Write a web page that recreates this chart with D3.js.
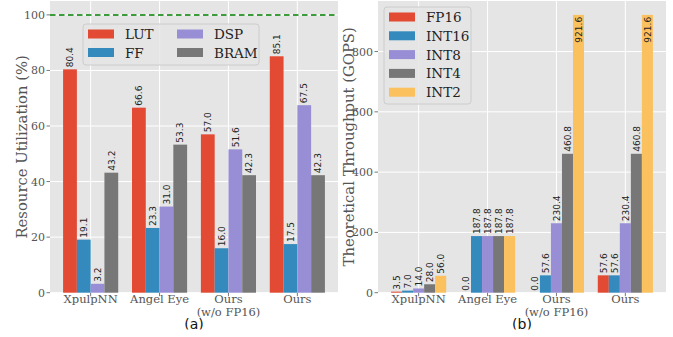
<!DOCTYPE html>
<html>
<head>
<meta charset="utf-8">
<script src="https://cdn.jsdelivr.net/npm/d3@7"></script>
<style>
  body { margin: 0; background: #fff; }
  svg text { font-family: "DejaVu Serif", serif; }
</style>
</head>
<body>
<div id="chart"></div>
<script>
// data
const categories = ["XpulpNN", "Angel Eye", "Ours\n(w/o FP16)", "Ours"];

const resNames = ["LUT", "FF", "DSP", "BRAM"];
const lut = [80.4, 66.6, 57.0, 85.1];
const ff = [19.1, 23.3, 16.0, 17.5];
const dsp = [3.2, 31.0, 51.6, 67.5];
const bram = [43.2, 53.3, 42.3, 42.3];

const tpNames = ["FP16", "INT16", "INT8", "INT4", "INT2"];
const fp16 = [3.5, 0.0, 0.0, 57.6];
const int16 = [7.0, 187.8, 57.6, 57.6];
const int8 = [14.0, 187.8, 230.4, 230.4];
const int4 = [28.0, 187.8, 460.8, 460.8];
const int2 = [56.0, 187.8, 921.6, 921.6];

const resTicks = [0, 20, 40, 60, 80, 100];
const tpTicks = [0, 200, 400, 600, 800];

const colors = ["#E24A33", "#348ABD", "#988ED5", "#777777", "#FBC15E"];

const W = 673, H = 337;
const svg = d3.select('#chart').append('svg')
    .attr('width', W)
    .attr('height', H);

// the bottom of the panel tags is cut off in the original figure
svg.append('clipPath').attr('id', 'tagclip')
    .append('rect').attr('x', 0).attr('y', 0).attr('width', W).attr('height', 329.5);

function panel(opts) {
    const {left, right, top, bottom, series, names, barW, ymax, ticks, ylabel, ylabelX, tag, legend} = opts;
    const n = series.length;
    const x = d3.scaleLinear().domain([-0.59, 3.59]).range([left, right]);
    const y = d3.scaleLinear().domain([0, ymax]).range([bottom, top]);
    const g = svg.append('g');

    g.append('rect')
        .attr('x', left).attr('y', top)
        .attr('width', right - left).attr('height', bottom - top)
        .attr('fill', '#E5E5E5');

    // grid
    g.selectAll('.gy').data(ticks).enter().append('line')
        .attr('x1', left).attr('x2', right)
        .attr('y1', d => y(d)).attr('y2', d => y(d))
        .attr('stroke', '#fff').attr('stroke-width', 1);
    g.selectAll('.gx').data(categories).enter().append('line')
        .attr('x1', (d, i) => x(i)).attr('x2', (d, i) => x(i))
        .attr('y1', top).attr('y2', bottom)
        .attr('stroke', '#fff').attr('stroke-width', 1);

    // ticks + labels
    g.selectAll('.tk').data(ticks).enter().append('line')
        .attr('x1', left - 3.5).attr('x2', left)
        .attr('y1', d => y(d)).attr('y2', d => y(d))
        .attr('stroke', '#555').attr('stroke-width', 0.8);
    g.selectAll('.ty').data(ticks).enter().append('text')
        .attr('x', left - 5).attr('y', d => y(d) + 4)
        .attr('text-anchor', 'end')
        .attr('font-size', 11).attr('fill', '#555')
        .text(d => d);
    categories.forEach((c, i) => {
        g.append('line')
            .attr('x1', x(i)).attr('x2', x(i))
            .attr('y1', bottom).attr('y2', bottom + 3.5)
            .attr('stroke', '#555').attr('stroke-width', 0.8);
        c.split('\n').forEach((line, j) => {
            g.append('text')
                .attr('x', x(i)).attr('y', bottom + 10 + j * 13)
                .attr('text-anchor', 'middle')
                .attr('font-size', 11.5).attr('fill', '#555')
                .text(line);
        });
    });

    // bars
    series.forEach((vals, s) => {
        const off = (s - (n - 1) / 2) * barW;
        vals.forEach((v, i) => {
            const cx = x(i + off);
            const w = x(barW) - x(0);
            g.append('rect')
                .attr('x', cx - w / 2).attr('y', y(v))
                .attr('width', w).attr('height', bottom - y(v))
                .attr('fill', colors[s]);
            const inside = y(v) - 24 < top;
            const ty = inside ? y(v) + 2 : y(v) - 2;
            g.append('text')
                .attr('transform', `translate(${cx + 3.2},${ty}) rotate(-90)`)
                .attr('text-anchor', inside ? 'end' : 'start')
                .attr('font-size', 9).attr('fill', '#222')
                .style('font-family', '"DejaVu Sans", sans-serif')
                .text(v.toFixed(1));
        });
    });

    if (opts.refLine !== undefined) {
        g.append('line')
            .attr('x1', left).attr('x2', right)
            .attr('y1', y(opts.refLine)).attr('y2', y(opts.refLine))
            .attr('stroke', '#008000').attr('stroke-width', 1.5)
            .attr('stroke-dasharray', '5.5,3.5');
    }

    // y label
    g.append('text')
        .attr('transform', `translate(${ylabelX},${(top + bottom) / 2}) rotate(-90)`)
        .attr('text-anchor', 'middle')
        .attr('font-size', 14.8).attr('fill', '#555')
        .text(ylabel);

    // panel tag
    g.append('text')
        .attr('x', (left + right) / 2).attr('y', 329)
        .attr('text-anchor', 'middle')
        .attr('clip-path', 'url(#tagclip)')
        .attr('font-size', 14).attr('fill', '#111')
        .style('font-family', '"DejaVu Sans", sans-serif')
        .text(tag);

    // legend
    const lg = g.append('g');
    lg.append('rect')
        .attr('x', legend.x).attr('y', legend.y)
        .attr('width', legend.w).attr('height', legend.h)
        .attr('rx', 3)
        .attr('fill', '#E5E5E5').attr('fill-opacity', 0.85)
        .attr('stroke', '#CCCCCC').attr('stroke-width', 1);
    names.forEach((nm, k) => {
        const col = Math.floor(k / legend.rows);
        const row = k % legend.rows;
        const px = legend.x + 5 + col * legend.colW;
        const py = legend.y + legend.row0 + row * legend.rowH;
        lg.append('rect')
            .attr('x', px).attr('y', py - 4.5)
            .attr('width', 26).attr('height', 9)
            .attr('fill', colors[k]);
        lg.append('text')
            .attr('x', px + 37).attr('y', py + 5)
            .attr('font-size', 13.5).attr('fill', '#222')
            .text(nm);
    });
}

panel({
    left: 50, right: 338, top: 1, bottom: 292.7,
    series: [lut, ff, dsp, bram], names: resNames,
    barW: 0.2, ymax: 105, ticks: resTicks,
    ylabel: "Resource Utilization (%)", ylabelX: 27, tag: "(a)",
    refLine: 100,
    legend: {x: 83, y: 24, w: 176, h: 41, rows: 2, colW: 89, row0: 10, rowH: 18.5}
});

panel({
    left: 378, right: 666, top: 1, bottom: 292.7,
    series: [fp16, int16, int8, int4, int2], names: tpNames,
    barW: 0.16, ymax: 967.7, ticks: tpTicks,
    ylabel: "Theoretical Throughput (GOPS)", ylabelX: 354, tag: "(b)",
    legend: {x: 384, y: 7, w: 87, h: 97, rows: 5, colW: 0, row0: 10, rowH: 18.8}
});
</script>
</body>
</html>
